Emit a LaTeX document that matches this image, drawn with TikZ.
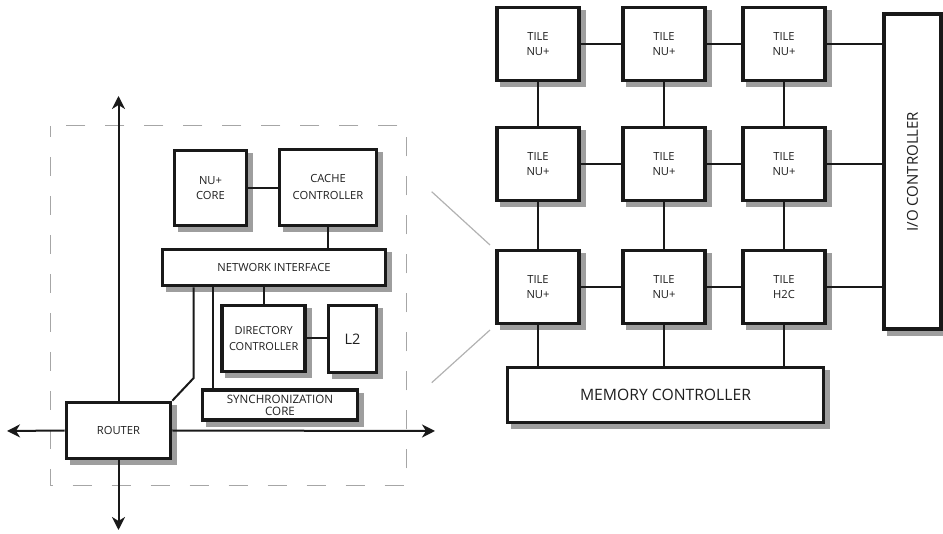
\documentclass[tikz,border=0pt]{standalone}
\usepackage{fontspec}
\usepackage{graphicx}
\setmainfont{Open Sans}
\usetikzlibrary{arrows.meta}
\definecolor{shadowgray}{HTML}{9E9E9E}

% grey drop shadow of a block: centre x, centre y, width, height (path size)
\newcommand\blkshadow[4]{%
  \path[fill=shadowgray] ({#1-#3/2+3},{#2-#4/2+3}) rectangle ({#1+#3/2+6.8},{#2+#4/2+6.8});}

\begin{document}
\begin{tikzpicture}[x=1pt,y=-1pt,
  blk/.style={draw=black!90, line width=3.6pt, fill=white, align=center,
    inner sep=0pt, text=black!88, font=\fontsize{11.2}{14.5}\selectfont},
  link/.style={line width=2pt, draw=black!90},
  bus/.style={line width=2pt, draw=black!90,
    -{Stealth[length=13pt,width=13pt,inset=4pt]}},
  zoomline/.style={draw=black!30, line width=1.2pt},
  frame/.style={draw=black!35, line width=1pt, dash pattern=on 19pt off 20pt, dash phase=8pt}]

% canvas
\useasboundingbox (0,0) rectangle (943,534);

% ---------- tile internals (left) ----------
\coordinate (f1) at (50.7,126);
\coordinate (f2) at (406,486);
\draw[frame] (f1) rectangle (f2);

\blkshadow{210.5}{188}{72}{75}
\node[blk, minimum width=72, minimum height=75] (core) at (210.5,188) {NU+\\CORE};
\blkshadow{328}{187.5}{97}{76}
\node[blk, minimum width=97, minimum height=76, font=\fontsize{11.2}{17}\selectfont] (cache) at (328,187.5) {CACHE\\CONTROLLER};
\blkshadow{274}{267.5}{223}{36}
\node[blk, minimum width=223, minimum height=36] (ni) at (274,267.5) {NETWORK INTERFACE};
\blkshadow{263.7}{338.5}{83}{66}
\node[blk, minimum width=83, minimum height=66, font=\fontsize{11}{16.5}\selectfont] (dir) at (263.7,338.5) {DIRECTORY\\CONTROLLER};
\blkshadow{352.5}{339}{48}{67}
\node[blk, minimum width=48, minimum height=67, font=\fontsize{14.5}{16}\selectfont] (l2) at (352.5,339) {L2};
\blkshadow{280}{405.3}{155}{30}
\node[blk, minimum width=155, minimum height=30, font=\fontsize{11.6}{12.5}\selectfont] (sync) at (280,405.3) {SYNCHRONIZATION\\CORE};
\blkshadow{118.5}{430.5}{104}{56}
\node[blk, minimum width=104, minimum height=56] (router) at (118.5,430.5) {ROUTER};

% router ports
\coordinate (pn) at (118.5,96);
\coordinate (ps) at (118.5,530);
\coordinate (pw) at (7,431);
\coordinate (pe) at (435,431);
\draw[bus] (router.north) -- (pn);
\draw[bus] (router.south) -- (ps);
\draw[bus] (router.west) -- (pw);
\draw[bus] (router.east) -- (pe);

% internal links
\draw[link] (core.east) -- (core.east -| cache.west);
\draw[link] (cache.south) -- (cache.south |- ni.north);
\draw[link] (dir.north) -- (dir.north |- ni.south);
\draw[link] (dir.east) -- (dir.east -| l2.west);
\coordinate (sx) at (212.7,0);
\draw[link] (sx |- ni.south) -- (sx |- sync.north);
\coordinate (bend) at (193.7,378);
\draw[link] (bend |- ni.south) -- (bend) -- (router.north east);

% zoom guides
\coordinate (z1) at (431.7,191.7);
\coordinate (z2) at (490,245);
\coordinate (z3) at (490,330);
\coordinate (z4) at (431.7,382.7);
\draw[zoomline] (z1) -- (z2);
\draw[zoomline] (z3) -- (z4);

% ---------- mesh (right) ----------
\blkshadow{538}{44}{82.5}{73}
\node[blk, minimum width=82.5, minimum height=73] (t11) at (538,44) {TILE\\NU+};
\blkshadow{664}{44}{82.5}{73}
\node[blk, minimum width=82.5, minimum height=73] (t12) at (664,44) {TILE\\NU+};
\blkshadow{784}{44}{82.5}{73}
\node[blk, minimum width=82.5, minimum height=73] (t13) at (784,44) {TILE\\NU+};
\blkshadow{538}{164}{82.5}{73}
\node[blk, minimum width=82.5, minimum height=73] (t21) at (538,164) {TILE\\NU+};
\blkshadow{664}{164}{82.5}{73}
\node[blk, minimum width=82.5, minimum height=73] (t22) at (664,164) {TILE\\NU+};
\blkshadow{784}{164}{82.5}{73}
\node[blk, minimum width=82.5, minimum height=73] (t23) at (784,164) {TILE\\NU+};
\blkshadow{538}{287}{82.5}{73}
\node[blk, minimum width=82.5, minimum height=73] (t31) at (538,287) {TILE\\NU+};
\blkshadow{664}{287}{82.5}{73}
\node[blk, minimum width=82.5, minimum height=73] (t32) at (664,287) {TILE\\NU+};
\blkshadow{784}{287}{82.5}{73}
\node[blk, minimum width=82.5, minimum height=73] (t33) at (784,287) {TILE\\H2C};
\blkshadow{912.5}{171.7}{57}{315}
\node[blk, minimum width=57, minimum height=315, font=\fontsize{15}{17}\selectfont] (io) at (912.5,171.7) {\rotatebox{90}{I/O CONTROLLER}};
\blkshadow{665.5}{395}{316}{55}
\node[blk, minimum width=316, minimum height=55, font=\fontsize{15.7}{17}\selectfont] (mc) at (665.5,395) {MEMORY CONTROLLER};

% mesh links
\foreach \r in {1,2,3}{
  \draw[link] (t\r1.east) -- (t\r2.west);
  \draw[link] (t\r2.east) -- (t\r3.west);
  \draw[link] (t\r3.east) -- (t\r3.east -| io.west);
}
\foreach \c in {1,2,3}{
  \draw[link] (t1\c.south) -- (t2\c.north);
  \draw[link] (t2\c.south) -- (t3\c.north);
  \draw[link] (t3\c.south) -- (t3\c.south |- mc.north);
}
\end{tikzpicture}
\end{document}
